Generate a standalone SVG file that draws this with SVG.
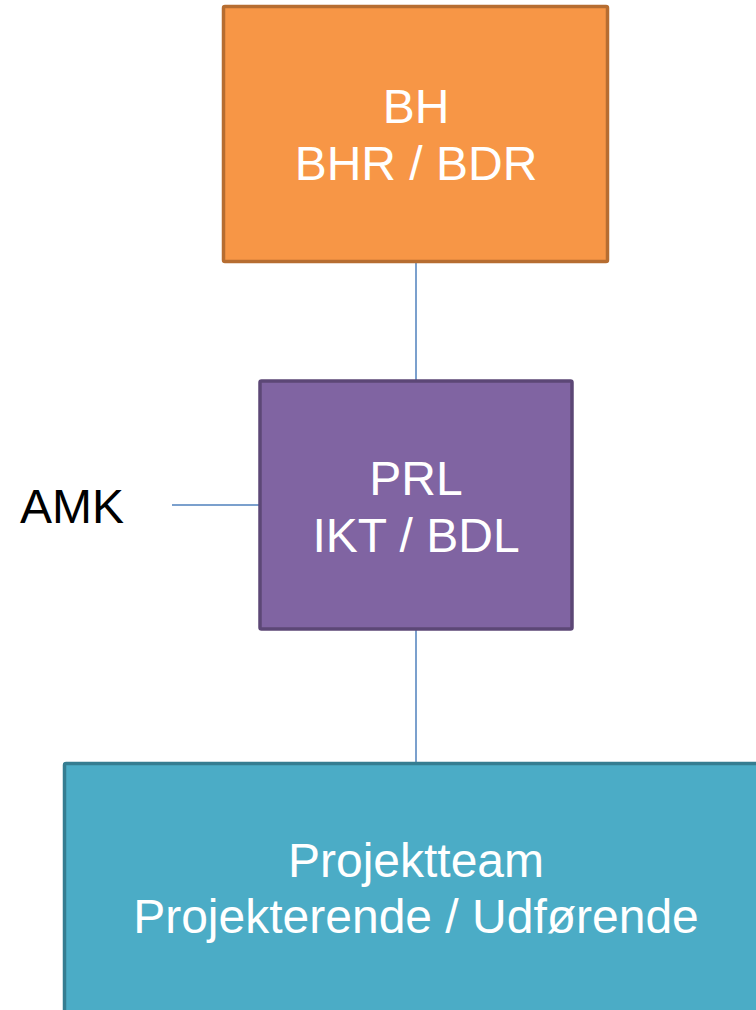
<svg xmlns="http://www.w3.org/2000/svg" width="756" height="1010" viewBox="0 0 756 1010">
<style>
.lbl{font-family:"Liberation Sans",Arial,sans-serif;font-size:48px;text-anchor:middle;fill:#ffffff}
.conn{stroke:#4F81BD;stroke-width:1.5;fill:none}
</style>
<rect width="756" height="1010" fill="#ffffff"/>
<g id="connectors">
<line class="conn" x1="416" y1="262" x2="416" y2="381"/>
<line class="conn" x1="416" y1="630" x2="416" y2="763"/>
<line class="conn" x1="172" y1="505" x2="260" y2="505"/>
</g>
<g id="bh">
<rect x="223.5" y="6.5" width="384" height="255" fill="#F79646" stroke="#B66D31" stroke-width="3.5" rx="1.5"/>
<text class="lbl" x="416" y="123">BH</text>
<text class="lbl" x="416" y="180">BHR / BDR</text>
</g>
<g id="prl">
<rect x="260" y="381" width="312" height="248" fill="#8064A2" stroke="#5C4776" stroke-width="3.5" rx="1.5"/>
<text class="lbl" x="416" y="495">PRL</text>
<text class="lbl" x="416" y="552">IKT / BDL</text>
</g>
<g id="amk">
<text x="20" y="523" font-family="Liberation Sans, Arial, sans-serif" font-size="48" fill="#000000">AMK</text>
</g>
<g id="team">
<rect x="64.5" y="763.5" width="720" height="280" fill="#4BACC6" stroke="#357D91" stroke-width="3.5" rx="1.5"/>
<text class="lbl" x="416" y="877">Projektteam</text>
<text class="lbl" x="416" y="933">Projekterende / Udførende</text>
</g>
</svg>
